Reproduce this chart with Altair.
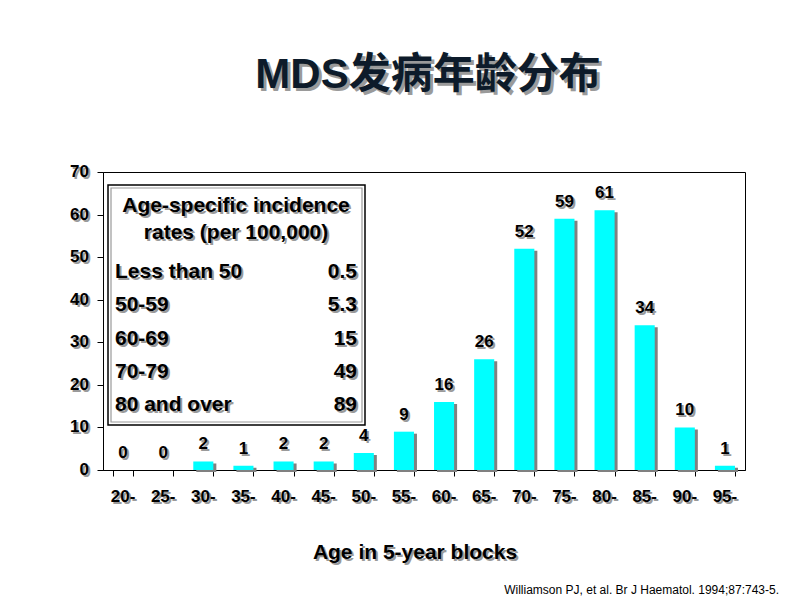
import altair as alt
import pandas as pd

categories = ["20-", "25-", "30-", "35-", "40-", "45-", "50-", "55-",
              "60-", "65-", "70-", "75-", "80-", "85-", "90-", "95-"]
counts = [0, 0, 2, 1, 2, 2, 4, 9, 16, 26, 52, 59, 61, 34, 10, 1]
y_ticks = [0, 10, 20, 30, 40, 50, 60, 70]
inset_header = ["Age-specific  incidence", "rates (per 100,000)"]
inset_groups = ["Less than 50", "50-59", "60-69", "70-79", "80 and over"]
inset_rates = ["0.5", "5.3", "15", "49", "89"]
title_text = "MDS发病年龄分布"
x_title = "Age in 5-year blocks"
citation = "Williamson PJ, et al. Br J Haematol. 1994;87:743-5."

W, H = 642, 298
FONT = "Liberation Sans, Arial, Noto Sans CJK SC, sans-serif"
SHADOW = "#9a9a9a"

df = pd.DataFrame({"cat": categories, "v": counts})
tick_df = pd.DataFrame({"v": y_ticks})
one = pd.DataFrame({"k": [0]})

xscale = alt.Scale(domain=categories, paddingInner=0.5, paddingOuter=0.25)
xaxis = alt.Axis(labels=False, title=None, tickBand="extent", tickSize=6,
                 tickColor="black", domainColor="black", grid=False)
yscale = alt.Scale(domain=[0, 70], nice=False, zero=True)
yaxis = alt.Axis(labels=False, title=None, values=y_ticks, tickSize=6,
                 tickColor="black", domainColor="black", grid=False)

X = alt.X("cat:N", scale=xscale, axis=xaxis, sort=categories)
Y = alt.Y("v:Q", scale=yscale, axis=yaxis)


def shadowed(data, enc, off=2, color="black", **kw):
    dx = kw.pop("dx", 0)
    dy = kw.pop("dy", 0)
    sh = alt.Chart(data).mark_text(color=SHADOW, dx=dx + off, dy=dy + off, font=FONT, **kw).encode(**enc)
    fg = alt.Chart(data).mark_text(color=color, dx=dx, dy=dy, font=FONT, **kw).encode(**enc)
    return [sh, fg]


layers = []

# bars with shadow
layers.append(alt.Chart(df).transform_filter("datum.v > 0")
              .mark_bar(color="#808080", xOffset=3, yOffset=2)
              .encode(x=X, y=Y))
layers.append(alt.Chart(df).mark_bar(color="#00ffff").encode(x=X, y=Y))

# value labels
layers += shadowed(df, dict(x=X, y=Y, text="v:Q"), fontSize=17, fontWeight="bold",
                   baseline="middle", align="center", dy=-17)

# x tick labels
layers += shadowed(df, dict(x=X, y=alt.value(H + 27), text="cat:N"), fontSize=17,
                   fontWeight="bold", baseline="middle", align="center")

# y tick labels
layers += shadowed(tick_df, dict(x=alt.value(-14), y=Y, text="v:Q"), fontSize=17,
                   fontWeight="bold", baseline="middle", align="right")

# inset box
layers.append(alt.Chart(one).mark_rect(fill="white", stroke="black", strokeWidth=1.5)
              .encode(x=alt.value(5), x2=alt.value(262), y=alt.value(13), y2=alt.value(253)))
layers.append(alt.Chart(one).mark_rect(fill="white", stroke="#9a9a9a", strokeWidth=1.2)
              .encode(x=alt.value(8), x2=alt.value(259), y=alt.value(16), y2=alt.value(250)))

layers += shadowed(one, dict(x=alt.value(133), y=alt.value(34)), text=inset_header,
                   fontSize=21, fontWeight="bold", baseline="middle", align="center", lineHeight=27)
layers += shadowed(one, dict(x=alt.value(12), y=alt.value(100)), text=inset_groups,
                   fontSize=21, fontWeight="bold", baseline="middle", align="left", lineHeight=33.3)
layers += shadowed(one, dict(x=alt.value(254), y=alt.value(100)), text=inset_rates,
                   fontSize=21, fontWeight="bold", baseline="middle", align="right", lineHeight=33.3)

# title
layers += shadowed(one, dict(x=alt.value(325), y=alt.value(-84)), off=3, color="#0d1b2a",
                   text=title_text, fontSize=42, fontWeight="bold", baseline="alphabetic",
                   align="center")

# axis title
layers += shadowed(one, dict(x=alt.value(312), y=alt.value(381)), text=x_title,
                   fontSize=21, fontWeight="bold", baseline="middle", align="center")

# citation
layers.append(alt.Chart(one).mark_text(text=citation, font=FONT, fontSize=12, color="black",
                                       align="right", baseline="middle")
              .encode(x=alt.value(676), y=alt.value(418)))

chart = alt.layer(*layers).properties(
    width=W, height=H,
    padding={"left": 103, "top": 172, "right": 55, "bottom": 130},
    autosize="none",
    background="white",
).configure_view(stroke="black", strokeWidth=1)

chart.save("out.html", embed_options={"renderer": "svg", "actions": False})
